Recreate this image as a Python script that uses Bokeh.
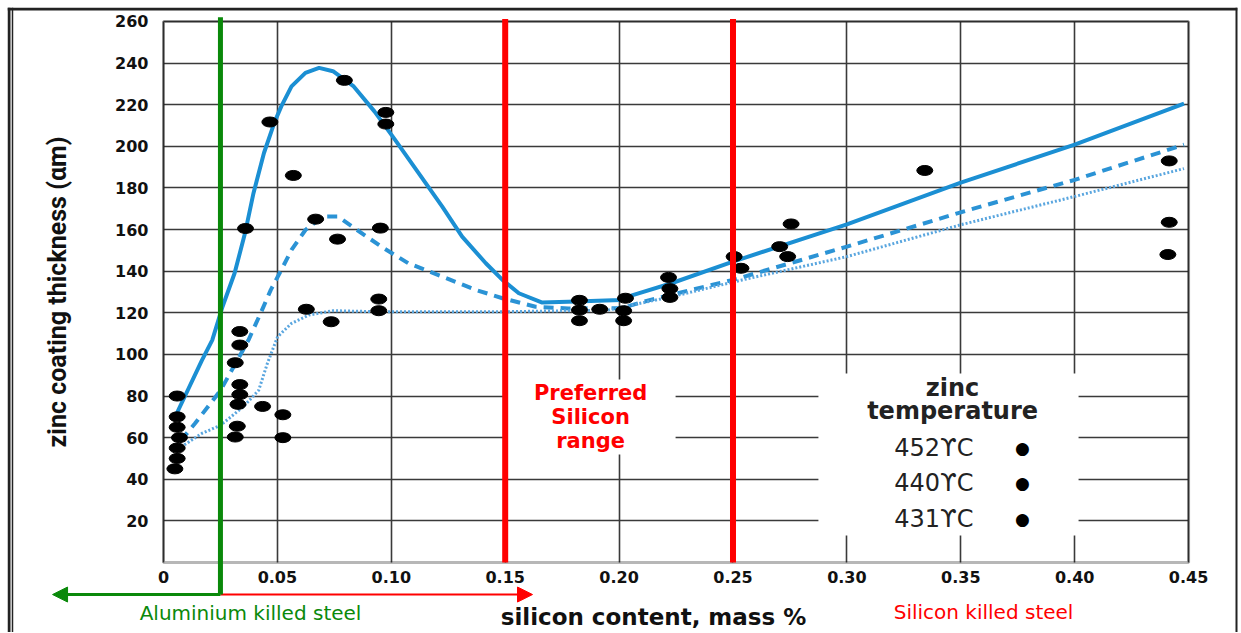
from bokeh.plotting import figure
from bokeh.models import FixedTicker, Label, Arrow, NormalHead, BoxAnnotation, Range1d, Span
from bokeh.embed import file_html
from bokeh.resources import INLINE

# ---------------- data ----------------
x_ticks = [0, 0.05, 0.10, 0.15, 0.20, 0.25, 0.30, 0.35, 0.40, 0.45]
x_tick_labels = ["0", "0.05", "0.10", "0.15", "0.20", "0.25", "0.30", "0.35", "0.40", "0.45"]
y_ticks = [20, 40, 60, 80, 100, 120, 140, 160, 180, 200, 220, 240, 260]

# measured points (all drawn as black dots)
pts_x = [0.006, 0.006, 0.006, 0.007, 0.006, 0.006, 0.005,
         0.0335, 0.0335, 0.0315, 0.0335, 0.0335, 0.0327, 0.0324, 0.0315,
         0.0435, 0.0524, 0.0524,
         0.036, 0.0467, 0.057, 0.0668, 0.0764, 0.0794, 0.0952, 0.0976, 0.0976,
         0.0945, 0.0945, 0.0627, 0.0736,
         0.1826, 0.1826, 0.1826, 0.1915, 0.2028, 0.202, 0.202,
         0.2217, 0.2223, 0.2223, 0.2505, 0.2535, 0.2705, 0.274, 0.2755,
         0.3342, 0.4415, 0.4415, 0.4409]
pts_y = [80, 70, 65, 60, 55, 50, 45,
         111, 104.5, 96, 85.5, 80.7, 76, 65.5, 60.3,
         75, 71, 60,
         160.5, 211.7, 186, 165, 155.4, 231.7, 160.7, 216.3, 210.7,
         126.6, 121, 121.7, 115.7,
         126, 121.3, 116.2, 121.7, 127, 121, 116.2,
         137, 131.6, 127.4, 147, 141.4, 151.8, 147, 162.7,
         188.4, 193, 163.5, 148]

# 452 C curve (solid)
solid_x = [0.0058, 0.0168, 0.0214, 0.0259, 0.0312, 0.0358, 0.0395, 0.0441, 0.0486, 0.0517,
           0.0562, 0.0623, 0.0683, 0.0744, 0.0835, 0.0926, 0.1016, 0.112, 0.1223, 0.1311,
           0.1415, 0.1488, 0.156, 0.166, 0.1776, 0.2006, 0.206, 0.223, 0.25, 0.30,
           0.35, 0.40, 0.448]
solid_y = [71.6, 97, 106.9, 122.9, 139, 158.3, 177.5, 196.8, 211.2, 219.2,
           228.8, 235.3, 237.7, 236.1, 228.8, 216.8, 203.2, 187.1, 171.1, 156.6,
           143.8, 135.8, 129.4, 125, 125.3, 126.1, 128.5, 134.2, 144.6, 162.5,
           182.6, 200.8, 220.5]
# 440 C curve (dashed)
dashed_x = [0.0077, 0.0138, 0.0251, 0.0373, 0.0426, 0.0471, 0.0517, 0.0562, 0.0623, 0.0698,
            0.0766, 0.085, 0.0956, 0.1075, 0.1223, 0.1371, 0.1488, 0.1633, 0.1776, 0.2006,
            0.2165, 0.25, 0.30, 0.35, 0.40, 0.448]
dashed_y = [58.7, 66.8, 82.8, 106.9, 119.7, 131, 140.6, 150.2, 159.8, 166.3,
            166.3, 159.8, 151.8, 143.8, 137.4, 131, 127, 122.9, 122.1, 122.2,
            127, 135.8, 151.8, 168.3, 183.9, 200.8]
# 431 C curve (dotted)
dotted_x = [0.0077, 0.0168, 0.0251, 0.035, 0.0418, 0.0456, 0.0501, 0.0562, 0.0638, 0.0744,
            0.0956, 0.1488, 0.195, 0.223, 0.254, 0.30, 0.35, 0.40, 0.448]
dotted_y = [55.5, 62, 66, 74.8, 82.8, 95.7, 108.5, 114.9, 118.9, 121,
            120.5, 120.5, 121.3, 127.7, 135.8, 147, 162.3, 175.9, 189.3]

legend_title = "zinc\ntemperature"
legend_items = ["452ϒC", "440ϒC", "431ϒC"]

x_title = "silicon content, mass %"
y_title = "zinc coating thickness (αm)"

BLUE = "#1b8fd3"
GREEN = "#0a890a"
RED = "#ff0000"
INK = "#111111"

# the frame covers the whole page; the plot box (0..0.45, 0..260) sits inside it
p = figure(width=1240, height=632,
           x_range=Range1d(-0.06848, 0.47147), y_range=Range1d(-33.64, 266.72),
           output_backend="svg", toolbar_location=None,
           min_border_left=7, min_border_right=3, min_border_top=7, min_border_bottom=0,
           background_fill_color="white", border_fill_color="white")
p.outline_line_color = None

# page border (left double, top, right; open at the bottom)
for loc, dim, w in [(-0.06782, "height", 3), (-0.06629, "height", 1.5),
                    (0.47125, "height", 3), (266.0, "width", 3)]:
    p.add_layout(Span(location=loc, dimension=dim, line_color="#222", line_width=w))

# axes placed on the plot box edges
p.xaxis.ticker = FixedTicker(ticks=x_ticks)
p.xaxis.major_label_overrides = dict(zip(x_ticks, x_tick_labels))
p.yaxis.ticker = FixedTicker(ticks=y_ticks)
p.xaxis.fixed_location = 0
p.yaxis.fixed_location = 0
p.xaxis.bounds = (0, 0.45)
p.yaxis.bounds = (0, 260)
for ax in (p.xaxis, p.yaxis):
    ax.axis_line_color = None
    ax.major_tick_line_color = None
    ax.minor_tick_line_color = None
    ax.major_tick_out = 0
    ax.major_tick_in = 0
    ax.major_label_text_font = "DejaVu Sans"
    ax.major_label_text_font_style = "bold"
    ax.major_label_text_font_size = "16px"
    ax.major_label_text_color = INK
p.xaxis.major_label_standoff = 8
p.yaxis.major_label_standoff = 15
p.yaxis.axis_label = y_title
p.yaxis.axis_label_text_font = "Roboto"
p.yaxis.axis_label_text_font_style = "bold"
p.yaxis.axis_label_text_font_size = "25px"
p.yaxis.axis_label_text_color = INK
p.yaxis.axis_label_standoff = 40

for g in (p.xgrid, p.ygrid):
    g.grid_line_color = "#3a3a3a"
    g.grid_line_width = 1.6
xg = p.xgrid[0]
yg = p.ygrid[0]
if "cross_bounds" in xg.properties():
    xg.cross_bounds = (0, 260)
    yg.cross_bounds = (0, 0.45)
    xg.bounds = (0, 0.45)
    yg.bounds = (0, 260)
else:
    xg.visible = False
    yg.visible = False
    p.segment(x0=x_ticks, y0=[0] * len(x_ticks), x1=x_ticks, y1=[260] * len(x_ticks),
              line_color="#3a3a3a", line_width=1.6)
    p.segment(x0=[0] * len(y_ticks), y0=y_ticks, x1=[0.45] * len(y_ticks), y1=y_ticks,
              line_color="#3a3a3a", line_width=1.6)

# curves
p.line(solid_x, solid_y, line_color=BLUE, line_width=4, line_join="round")
p.line(dashed_x, dashed_y, line_color="#2b93d5", line_width=4, line_dash="10 7")
p.line(dotted_x, dotted_y, line_color="#5aa6df", line_width=3, line_dash="2 2")

# points
p.ellipse(pts_x, pts_y, width=16, height=10, width_units="screen", height_units="screen",
          fill_color="black", line_color="black")

# white boxes behind texts
p.add_layout(BoxAnnotation(left=0.151, right=0.2248, bottom=51.9, top=87.9,
                           fill_color="white", fill_alpha=1, line_color=None))
p.add_layout(BoxAnnotation(left=0.2875, right=0.4017, bottom=13.0, top=90.8,
                           fill_color="white", fill_alpha=1, line_color=None))
# plot box
p.add_layout(BoxAnnotation(left=0, right=0.45, bottom=0, top=260,
                           fill_color=None, line_color=INK, line_width=3))

# red range lines and arrows
for xv in (0.15, 0.25):
    p.add_layout(Arrow(end=None, x_start=xv, y_start=261.2, x_end=xv, y_end=0,
                       line_color=RED, line_width=6))
p.add_layout(Arrow(end=NormalHead(size=15, fill_color=RED, line_color=RED),
                   x_start=0.025, y_start=-15.4, x_end=0.162, y_end=-15.4,
                   line_color=RED, line_width=2))
p.add_layout(Arrow(end=NormalHead(size=15, fill_color=GREEN, line_color=GREEN),
                   x_start=0.025, y_start=-15.4, x_end=-0.0487, y_end=-15.4,
                   line_color=GREEN, line_width=3))
p.add_layout(Arrow(end=None, x_start=0.025, y_start=262, x_end=0.025, y_end=-15.4,
                   line_color=GREEN, line_width=5))

# texts
p.add_layout(Label(x=0.2151, y=-26, text=x_title, text_align="center", text_baseline="middle",
                   text_font="DejaVu Sans", text_font_style="bold", text_font_size="23px",
                   text_color=INK))
p.add_layout(Label(x=0.0382, y=-24.5, text="Aluminium killed steel", text_align="center",
                   text_baseline="middle", text_font="DejaVu Sans", text_font_size="20px",
                   text_color=GREEN))
p.add_layout(Label(x=0.36, y=-24, text="Silicon killed steel", text_align="center",
                   text_baseline="middle", text_font="DejaVu Sans", text_font_size="20px",
                   text_color=RED))
p.add_layout(Label(x=0.1875, y=69.8, text="Preferred\nSilicon\nrange", text_align="center",
                   text_baseline="middle", text_font="DejaVu Sans", text_font_style="bold",
                   text_font_size="21px", text_line_height=1.0, text_color=RED))

p.add_layout(Label(x=0.3464, y=78.3, text=legend_title, text_align="center",
                   text_baseline="middle", text_font="DejaVu Sans", text_font_style="bold",
                   text_font_size="24px", text_line_height=0.85, text_color="#222"))
for txt, yv in zip(legend_items, [54.8, 38.0, 20.7]):
    p.add_layout(Label(x=0.3382, y=yv, text=txt, text_align="center", text_baseline="middle",
                       text_font="DejaVu Sans", text_font_size="24px", text_color="#222"))
    p.add_layout(Label(x=0.3771, y=yv, text="●", text_align="center", text_baseline="middle",
                       text_font="DejaVu Sans", text_font_size="17px", text_color="black"))

open("out.html", "w").write(file_html(p, INLINE))
